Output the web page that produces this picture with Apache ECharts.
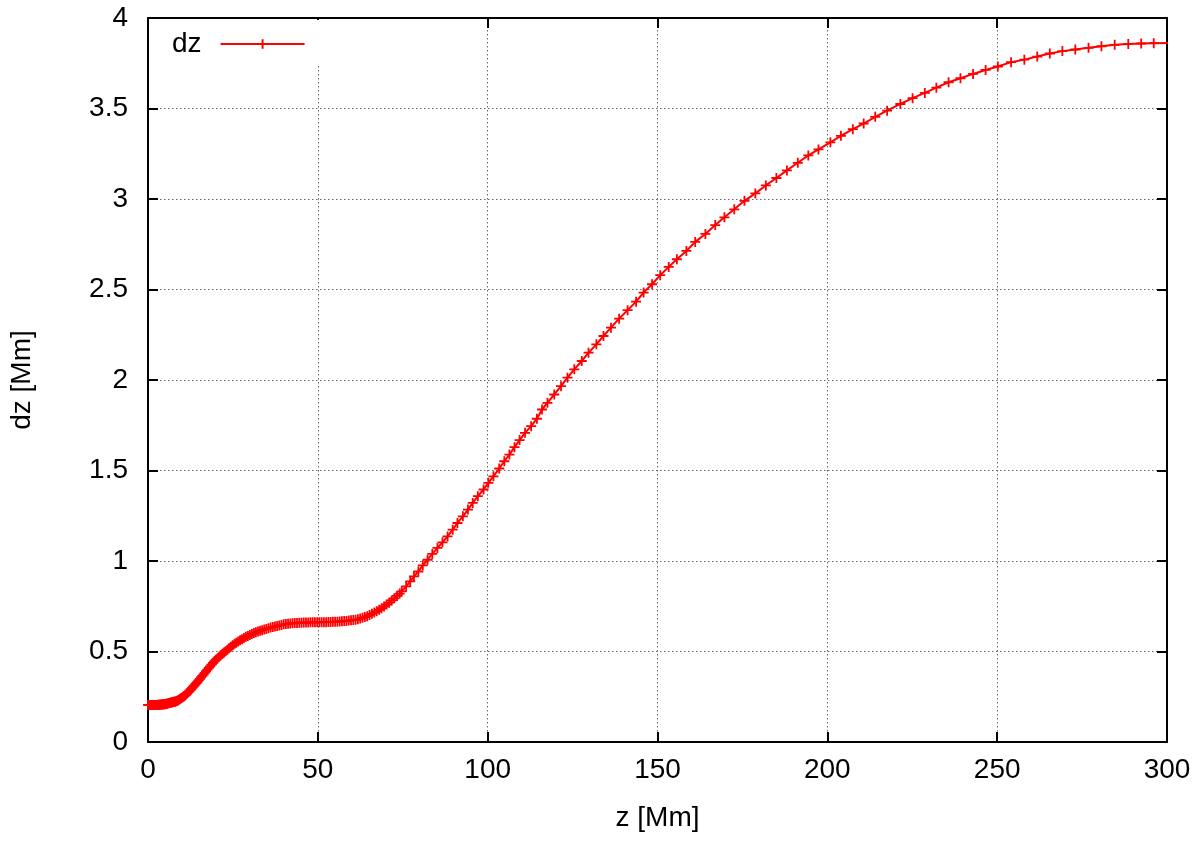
<!DOCTYPE html>
<html>
<head>
<meta charset="utf-8">
<script src="https://cdn.jsdelivr.net/npm/echarts@6/dist/echarts.min.js"></script>
<style>
html,body{margin:0;padding:0;background:#fff;}
#chart{width:1200px;height:842px;}
</style>
</head>
<body>
<div id="chart"></div>
<script>
// ---- data (z in Mm, dz in Mm) ----
const zLow = [0,0.2,0.4,0.6,0.8,1,1.2,1.4,1.6,1.8,2,2.2,2.4,2.6,2.8,3,3.2,3.4,3.6,3.8,4,4.2,4.4,4.6,4.8,5,5.2,5.4,5.6,5.8,6,6.2,6.4,6.6,6.8,7,7.2,7.4,7.6,7.8,
  8,8.22,8.45,8.68,8.91,9.14,9.37,9.61,9.85,10.09,10.34,10.59,10.84,11.1,11.36,11.63,11.9,12.18,12.46,12.75,13.04,13.34,13.65,13.96,14.28,14.61,14.94,15.28,15.63,15.99,16.35,16.72,17.1,17.49,17.89,18.3,18.72,19.15,19.59,20.04,20.49,20.95,21.42,21.9,22.39,22.88,23.38,23.89,24.41,24.94,25.47,26.01,26.56,27.11,27.67,28.24,28.81,29.39,29.98,30.57,31.17,31.77,32.38,32.99,33.6,34.22,34.84,35.47,36.1,36.73,37.37,38.01,38.65,39.29,39.94];
const dzLow = [0.205,0.205,0.205,0.205,0.205,0.205,0.205,0.205,0.205,0.205,0.205,0.205,0.205,0.205,0.205,0.206,0.206,0.206,0.206,0.207,0.207,0.207,0.208,0.208,0.209,0.209,0.210,0.211,0.212,0.213,0.214,0.215,0.216,0.217,0.218,0.219,0.220,0.221,0.222,0.222,
  0.223,0.225,0.227,0.229,0.231,0.234,0.237,0.240,0.243,0.246,0.250,0.253,0.256,0.261,0.266,0.271,0.276,0.282,0.287,0.293,0.299,0.306,0.312,0.319,0.326,0.333,0.341,0.349,0.357,0.365,0.373,0.382,0.391,0.400,0.409,0.418,0.428,0.437,0.447,0.455,0.463,0.471,0.479,0.487,0.495,0.502,0.510,0.518,0.526,0.535,0.543,0.549,0.555,0.562,0.568,0.575,0.581,0.586,0.591,0.597,0.602,0.606,0.610,0.614,0.618,0.622,0.625,0.629,0.632,0.635,0.638,0.641,0.644,0.647,0.650];

const zMid = [40.59,41.24,41.89,42.55,43.21,43.87,44.53,45.19,45.85,46.51,47.17,47.83,48.49,49.15,49.81,50.47,51.13,51.79,52.45,53.11,53.77,54.43,55.09,55.75,56.42,57.09,57.76,58.43,59.1,59.77,60.44,61.11,61.79,62.47,63.15,63.84,64.53,65.22,65.92,66.62,67.33,68.05,68.77,69.5,70.24,70.99,71.75,72.52,73.3,74.1];
const dzMid = [0.652,0.654,0.655,0.656,0.657,0.658,0.659,0.659,0.660,0.660,0.660,0.661,0.661,0.661,0.661,0.662,0.662,0.662,0.662,0.663,0.663,0.664,0.664,0.665,0.666,0.667,0.668,0.669,0.671,0.672,0.674,0.675,0.678,0.682,0.686,0.690,0.695,0.701,0.708,0.715,0.722,0.730,0.739,0.749,0.759,0.770,0.782,0.794,0.807,0.820];

const zRise = [74.7,76,77.2,78.3,79.6,80.9,82.3,83.7,85.2,86.7,88.2,89.7,91.1,92.7,94.2,95.6,97.1,98.8,100.2,101.7,103.4,104.9,106.4,107.9,109.4,111,112.8,114.5];
const dzRise = [0.832,0.860,0.887,0.915,0.942,0.976,1.007,1.039,1.072,1.103,1.136,1.173,1.210,1.247,1.284,1.321,1.358,1.395,1.432,1.468,1.511,1.551,1.588,1.629,1.668,1.708,1.745,1.786];

const zHigh = [116,117.6,119.6,121.6,123.5,125.5,127.7,129.7,132,134.1,136.3,138.7,141.2,143.7,145.9,148.4,150.8,153.3,155.7,158.5,161.1,
  164.1,167,169.7,172.6,175.6,178.8,181.9,185,188.1,191.3,194.4,197.4,200.9,204,207.5,210.7,214.1,217.6,
  221.5,225.1,228.7,232.1,235.7,239.2,242.9,246.6,250.2,254.1,258,261.8,265.5,269.2,273,276.9,280.7,284.6,288.6,292.4,296.1,300.3];
const dzHigh = [1.837,1.874,1.920,1.966,2.013,2.059,2.105,2.151,2.197,2.243,2.289,2.339,2.386,2.433,2.483,2.529,2.579,2.625,2.667,2.713,2.763,
  2.807,2.856,2.899,2.943,2.990,3.031,3.075,3.116,3.158,3.200,3.241,3.274,3.313,3.349,3.386,3.417,3.454,3.488,
  3.525,3.557,3.586,3.615,3.645,3.667,3.691,3.713,3.732,3.756,3.770,3.787,3.804,3.817,3.826,3.835,3.844,3.852,3.857,3.859,3.861,3.862];

const seriesName = 'dz';
const xRange = [0, 300], xStep = 50;
const yRange = [0, 4], yStep = 0.5;
const xTitle = 'z [Mm]', yTitle = 'dz [Mm]';

// ---- build ----
function pairs(zs, ds) {
  const out = [];
  const n = Math.min(zs.length, ds.length);
  for (let i = 0; i < n; i++) out.push([zs[i], ds[i]]);
  return out;
}
const seriesData = [].concat(pairs(zLow, dzLow), pairs(zMid, dzMid), pairs(zRise, dzRise), pairs(zHigh, dzHigh));

const FONT = '"Liberation Sans", Arial, Helvetica, sans-serif';
const axisLineStyle = { color: '#000', width: 2 };
const tickStyle = { show: true, inside: true, length: 10, lineStyle: { color: '#000', width: 2 } };
const gridLine = { show: true, lineStyle: { color: '#666', width: 1, type: [1.5, 2.5] } };
const labelStyle = { fontSize: 28, fontFamily: FONT, color: '#000' };

const chart = echarts.init(document.getElementById('chart'), null, { renderer: 'canvas' });
chart.setOption({
  animation: false,
  backgroundColor: '#fff',
  grid: { left: 148, right: 33, top: 18, bottom: 100, containLabel: false },
  legend: {
    data: [seriesName],
    left: 150, top: 20,
    align: 'right',
    itemWidth: 84, itemHeight: 12,
    backgroundColor: '#fff',
    padding: [10, 18, 8, 22],
    selectedMode: false,
    textStyle: Object.assign({}, labelStyle, { padding: [0, 14, 0, 0] })
  },
  xAxis: [
    { type: 'value', position: 'bottom', min: xRange[0], max: xRange[1], interval: xStep,
      axisLine: { show: true, onZero: false, lineStyle: axisLineStyle },
      axisTick: tickStyle, axisLabel: Object.assign({ margin: 14 }, labelStyle),
      splitLine: gridLine,
      name: xTitle, nameLocation: 'middle', nameGap: 62,
      nameTextStyle: labelStyle },
    { type: 'value', position: 'top', min: xRange[0], max: xRange[1], interval: xStep,
      axisLine: { show: true, onZero: false, lineStyle: axisLineStyle },
      axisTick: tickStyle, axisLabel: { show: false }, splitLine: { show: false } }
  ],
  yAxis: [
    { type: 'value', position: 'left', min: yRange[0], max: yRange[1], interval: yStep,
      axisLine: { show: true, onZero: false, lineStyle: axisLineStyle },
      axisTick: tickStyle, axisLabel: Object.assign({ margin: 20 }, labelStyle),
      splitLine: gridLine,
      name: yTitle, nameLocation: 'middle', nameGap: 112, nameRotate: 90,
      nameTextStyle: labelStyle },
    { type: 'value', position: 'right', min: yRange[0], max: yRange[1], interval: yStep,
      axisLine: { show: true, onZero: false, lineStyle: axisLineStyle },
      axisTick: tickStyle, axisLabel: { show: false }, splitLine: { show: false } }
  ],
  series: [{
    name: seriesName,
    type: 'line',
    xAxisIndex: 0, yAxisIndex: 0,
    data: seriesData,
    clip: true,
    symbol: 'path://M5,0L5,10M0,5L10,5',
    symbolSize: 10,
    showSymbol: true,
    showAllSymbol: true,
    lineStyle: { color: '#ff0000', width: 2 },
    itemStyle: { color: '#ff0000', borderColor: '#ff0000', borderWidth: 1.8 },
    emphasis: { disabled: true },
    silent: true
  }]
});
</script>
</body>
</html>
